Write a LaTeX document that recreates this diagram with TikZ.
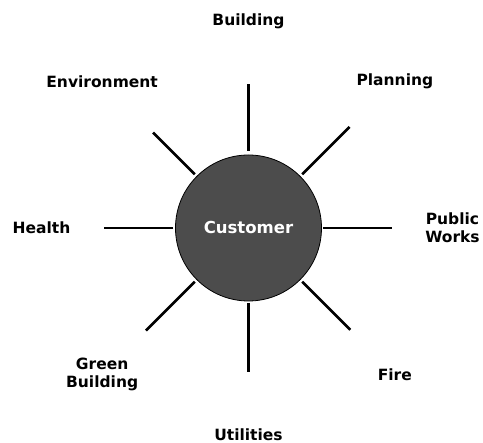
\documentclass[tikz,border=0pt]{standalone}
\usepackage{fontspec}
\setmainfont{DejaVu Sans}

\begin{document}
\begin{tikzpicture}[x=1pt, y=1pt,
  every node/.style={font=\bfseries\fontsize{15.5}{18}\selectfont, align=center, inner sep=0pt},
  hub/.style={draw=black, line width=0.8pt, circle, fill=black!70, minimum size=146pt, text=white, font=\bfseries\fontsize{16.5}{19}\selectfont},
  spoke/.style={line width=2.6pt}]
\useasboundingbox (-248.5,-215) rectangle (234.5,228);
\node[hub] (C) at (0,0) {Customer};
% departments round the customer
\node (L1) at (90:207) {Building};
\node (L2) at (45:207) {Planning};
\node (L3) at (0:204) {Public\\Works};
\node (L4) at (-45:207) {Fire};
\node (L5) at (-90:207) {Utilities};
\node (L6) at (-135:207) {Green\\Building};
\node (L7) at (180:207) {Health};
\node (L8) at (135:207) {Environment};
% spokes
\coordinate (S1i) at (90:77);   \coordinate (S1o) at (90:144);
\coordinate (S2i) at (45:76);   \coordinate (S2o) at (45:143);
\coordinate (S3i) at (0:75);    \coordinate (S3o) at (0:144);
\coordinate (S4i) at (-45:76);  \coordinate (S4o) at (-45:144);
\coordinate (S5i) at (-90:75);  \coordinate (S5o) at (-90:144);
\coordinate (S6i) at (-135:76); \coordinate (S6o) at (-135:145);
\coordinate (S7i) at (180:75);  \coordinate (S7o) at (180:144);
\coordinate (S8i) at (135:76);  \coordinate (S8o) at (135:135);
\draw[spoke] (S1i) -- (S1o);
\draw[spoke] (S2i) -- (S2o);
\draw[spoke] (S3i) -- (S3o);
\draw[spoke] (S4i) -- (S4o);
\draw[spoke] (S5i) -- (S5o);
\draw[spoke] (S6i) -- (S6o);
\draw[spoke] (S7i) -- (S7o);
\draw[spoke] (S8i) -- (S8o);
\end{tikzpicture}
\end{document}
